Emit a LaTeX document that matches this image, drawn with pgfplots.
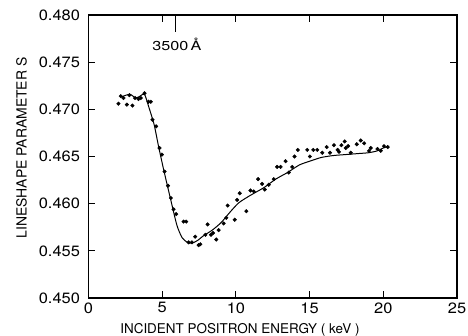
\documentclass[border=0pt]{standalone}
\usepackage{fontspec}
\setmainfont{TeX Gyre Heros}
\newfontfamily\tickfont[FakeStretch=1.1]{TeX Gyre Heros}
\newfontfamily\annfont[FakeStretch=1.25]{TeX Gyre Heros}
\usepackage{pgfplots}
\pgfplotsset{compat=1.18}
\begin{document}
\begin{tikzpicture}
\begin{axis}[
  scale only axis,
  width=368.5bp, height=283bp,
  xmin=0, xmax=25, ymin=0.450, ymax=0.480,
  xtick={0,5,10,15,20,25},
  ytick={0.450,0.455,0.460,0.465,0.470,0.475,0.480},
  yticklabel style={/pgf/number format/fixed,/pgf/number format/precision=3,/pgf/number format/fixed zerofill},
  /pgf/number format/assume math mode=true,
  tick label style={font=\tickfont\fontsize{15}{17}\selectfont},
  scaled y ticks=false,
  axis line style={line width=1.3pt},
  major tick length=7bp,
  tick style={line width=1pt, black},
  ticklabel style={text=black},
  x tick label style={yshift=-1bp},
  y tick label style={xshift=-5bp},
  xlabel={INCIDENT POSITRON ENERGY ( keV )},
  ylabel={LINESHAPE PARAMETER S},
  x label style={font=\fontsize{13.5}{15}\selectfont,at={(axis description cs:0.411,-0.111)},anchor=center},
  y label style={font=\fontsize{14}{16}\selectfont,at={(axis description cs:-0.1818,0.530)},anchor=center},
  clip=false,
]
\addplot[only marks, mark=*, mark size=1.8bp, black] coordinates {
(2.03,0.4706)(2.6,0.4705)(2.98,0.4704)(2.19,0.4714)(2.37,0.4712)(2.78,0.4715)
(3.16,0.4712)(3.39,0.4711)(3.55,0.4712)(3.80,0.4717)(4.07,0.4708)(4.23,0.4708)
(4.34,0.4689)(4.59,0.4682)(4.82,0.4659)(4.98,0.4652)
(5.16,0.4634)(5.39,0.4619)(5.59,0.4606)(5.77,0.4594)(5.95,0.4589)(6.45,0.4581)(6.63,0.4581)
(6.79,0.4559)(7.02,0.4559)(7.24,0.4565)(7.47,0.4556)(7.59,0.4557)(8.08,0.4578)(7.93,0.4567)
(8.31,0.4567)(8.45,0.4569)(8.67,0.4562)(8.83,0.4572)(9.17,0.4579)(9.35,0.4585)(9.44,0.4598)
(9.92,0.4583)(10.08,0.4604)(10.26,0.4611)(10.71,0.4592)(10.99,0.4614)(11.21,0.4613)
(11.51,0.4626)(11.78,0.4621)(11.96,0.4615)(12.23,0.4620)(12.57,0.4626)(12.80,0.4639)
(13.03,0.4639)(13.37,0.4645)(13.59,0.4633)(13.82,0.4639)(13.98,0.4650)(14.2,0.4657)
(14.84,0.4657)(15.02,0.4650)(15.25,0.4657)(15.52,0.4657)(15.86,0.4654)(16.16,0.4660)
(16.38,0.4654)(16.65,0.4662)(16.99,0.4655)(17.16,0.4662)(17.38,0.4666)(17.61,0.4661)
(16.9,0.4657)(17.45,0.4659)(17.79,0.4654)(18.2,0.4663)(18.47,0.4667)(18.7,0.4664)
(19.03,0.4656)(19.15,0.4659)(19.6,0.4658)(19.83,0.4656)(20.05,0.4661)(20.3,0.4660)
};
\addplot[smooth, tension=0.4, line width=1pt, black] coordinates {
(2.2,0.4713)(2.8,0.4716)(3.2,0.4712)(3.5,0.4714)(3.8,0.4716)(4.1,0.4702)(4.45,0.4684)
(4.75,0.4661)(5.1,0.4636)(5.55,0.4606)(6.0,0.4577)(6.35,0.4564)(6.7,0.4559)(7.0,0.4558)
(7.4,0.4561)(7.8,0.4566)(8.4,0.4572)(9.0,0.4580)(9.6,0.4591)(10.2,0.4601)(11.0,0.4609)
(11.9,0.4617)(12.7,0.4626)(13.5,0.4633)(14.3,0.4641)(15.0,0.4645)(15.8,0.4649)
(16.6,0.4651)(17.4,0.4652)(18.2,0.4653)(19.0,0.4654)(19.6,0.4656)(20.0,0.4659)(20.4,0.4661)
};
\addplot[line width=1pt, black] coordinates {(5.9,0.480)(5.9,0.4782)};
\node[font=\annfont\fontsize{13}{15}\selectfont] at (axis cs:6.0,0.4769) {3500\,Å};
\end{axis}
\pgfresetboundingbox
\useasboundingbox (-88.5bp,-38bp) rectangle (379.5bp,298bp);
\end{tikzpicture}
\end{document}
